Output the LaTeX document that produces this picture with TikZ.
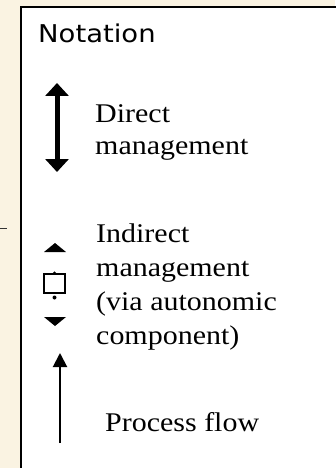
\documentclass[tikz,border=0pt]{standalone}
\usepackage{fontspec}
\setmainfont{Liberation Serif}
\newfontfamily\notafont{DejaVu Sans}
\usetikzlibrary{arrows.meta}
\definecolor{cream}{RGB}{250,243,226}
\tikzset{
  lbl/.style={anchor=base west, inner sep=0pt, font=\fontsize{27}{33}\selectfont},
  tri/.style={fill=black, draw=none},
}
\newcommand{\wide}[1]{\scalebox{1.11}[1]{#1}}
\begin{document}
\begin{tikzpicture}[x=1pt,y=-1pt]
\useasboundingbox (0,0) rectangle (335,468);
\fill[cream] (0,0) rectangle (335,468);
\fill[white, draw=black, line width=2pt] (21,7) rectangle (345,478);
\draw[line width=0.8pt, black!80] (0,228) -- (7,228);
% title
\node[anchor=base west, inner sep=0pt, font=\notafont\fontsize{24.5}{29}\selectfont] (title) at (38,43) {\scalebox{1.12}[1]{Notation}};
% direct management
\coordinate (d1) at (57,83);
\coordinate (d2) at (57,172);
\draw[line width=5pt, {Triangle[length=13pt,width=23pt]}-{Triangle[length=13pt,width=23pt]}] (d1) -- (d2);
\node[lbl] (dm1) at (95,122) {\wide{Direct}};
\node[lbl] (dm2) at (95,154) {\wide{management}};
% indirect management
\fill[tri] (44,252) -- (66,252) -- (55,243) -- cycle;
\fill[tri] (44,317) -- (66,317) -- (55,326) -- cycle;
\node[draw=black, line width=1.8pt, minimum width=21pt, minimum height=19pt, inner sep=0pt] (ibox) at (54.5,283.5) {};
\fill (ibox.north) circle (1.8pt);
\fill (54.5,297.5) circle (2pt);
\node[lbl] (im1) at (96,242) {\wide{Indirect}};
\node[lbl] (im2) at (96,276) {\wide{management}};
\node[lbl] (im3) at (96,310) {\wide{(via autonomic}};
\node[lbl] (im4) at (96,344) {\wide{component)}};
% process flow
\coordinate (p1) at (60,443);
\coordinate (p2) at (60,353);
\draw[line width=2pt, -{Triangle[length=14pt,width=14pt]}] (p1) -- (p2);
\node[lbl] (pf) at (105,431) {\wide{Process flow}};
\end{tikzpicture}
\end{document}
